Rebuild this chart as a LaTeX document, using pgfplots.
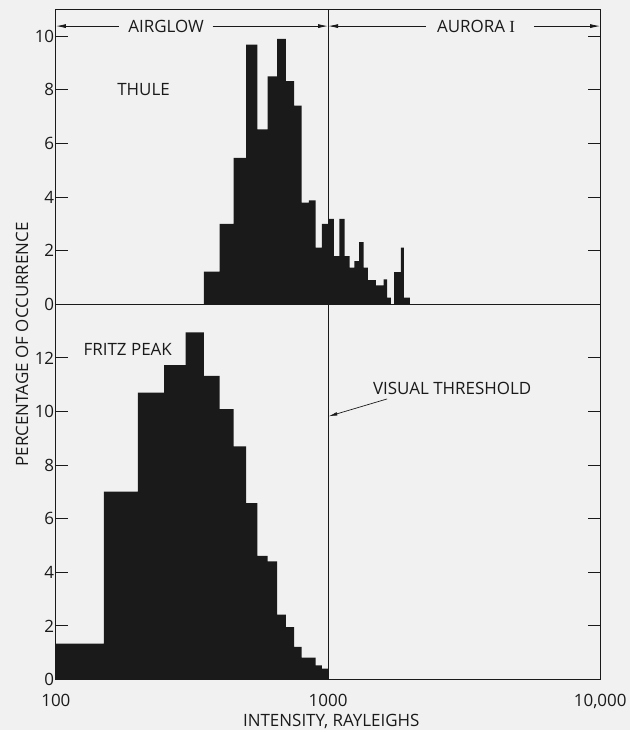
\documentclass[border=0pt]{standalone}
\usepackage{fontspec}
\setmainfont{Open Sans}
\newfontfamily\serifI{Liberation Serif}
\usepackage{pgfplots}
\usepackage{pgfplotstable}
\pgfplotsset{compat=1.18}
\usetikzlibrary{arrows.meta}
\definecolor{bg}{HTML}{F1F1F1}
\definecolor{ink}{HTML}{1A1A1A}

\pgfplotstableread{
x y
350 1.22
400 3.0
450 5.46
500 9.68
550 6.52
600 8.5
650 9.9
700 8.32
750 7.41
800 3.79
850 3.88
900 2.11
950 3.0
1000 3.19
1050 1.8
1100 3.19
1150 1.8
1200 1.37
1250 1.61
1300 2.32
1350 1.37
1400 0.9
1450 0.9
1500 0.71
1550 0.71
1600 0.93
1650 0.25
1700 0
1750 1.2
1800 1.2
1850 2.11
1900 0.25
1950 0.25
2000 0
}\thule

\pgfplotstableread{
x y
100 1.34
150 7.01
200 10.71
250 11.73
300 12.95
350 11.33
400 10.09
450 8.70
500 6.58
550 4.61
600 4.41
650 2.42
700 1.96
750 1.22
800 0.82
850 0.82
900 0.53
950 0.41
1000 0
}\fritz

\begin{document}
\begin{tikzpicture}[font=\fontsize{17}{20}\selectfont]
\fill[bg] (-56pt,-427pt) rectangle (575pt,305pt);

\begin{axis}[at={(0pt,0pt)}, anchor=south west, height=295.7pt,
  scale only axis, width=545.5pt,
  xmode=log, xmin=100, xmax=10000, ymin=0, ymax=11,
  ytick={0,2,4,6,8,10}, xtick=\empty, minor xtick={},
  tick align=inside, ytick pos=both, yticklabel pos=left,
  major tick length=12pt, minor tick length=0pt,
  axis line style={line width=1.1pt, ink},
  ytick style={line width=1pt, ink},
  xtick style={draw=none},
  /pgf/number format/assume math mode=true,
  every tick label/.append style={font=\fontsize{17}{20}\selectfont, text=ink},
  yticklabel style={inner xsep=1.5pt},
  clip=false]
\addplot[const plot mark left, fill=ink, draw=none] table[x=x,y=y] {\thule} \closedcycle;
\draw[ink, line width=0.9pt] (axis cs:1000,0) -- (axis cs:1000,11);
\draw[ink, line width=0.8pt, {Latex[length=10pt,width=4pt]}-] (rel axis cs:0,0.943) -- (rel axis cs:0.1155,0.943);
\node[text=ink] at (rel axis cs:0.2026,0.943) {AIRGLOW};
\draw[ink, line width=0.8pt, -{Latex[length=10pt,width=4pt]}] (rel axis cs:0.2878,0.943) -- (rel axis cs:0.5,0.943);
\draw[ink, line width=0.8pt, {Latex[length=10pt,width=4pt]}-] (rel axis cs:0.5,0.943) -- (rel axis cs:0.680,0.943);
\node[text=ink] at (rel axis cs:0.772,0.943) {AURORA {\serifI I}};
\draw[ink, line width=0.8pt, -{Latex[length=10pt,width=4pt]}] (rel axis cs:0.878,0.943) -- (rel axis cs:1,0.943);
\node[text=ink] at (axis cs:210,8.0) {THULE};
\end{axis}

\begin{axis}[at={(0pt,0pt)}, anchor=north west, height=376pt,
  scale only axis, width=545.5pt,
  xmode=log, xmin=100, xmax=10000, ymin=0, ymax=14,
  ytick={0,2,4,6,8,10,12},
  xtick={100,1000,10000}, xticklabels={100,1000,{10,000}}, minor xtick={},
  tick align=inside, ytick pos=both, yticklabel pos=left,
  major tick length=12pt, minor tick length=0pt,
  axis line style={line width=1.1pt, ink},
  ytick style={line width=1pt, ink},
  xtick style={draw=none},
  /pgf/number format/assume math mode=true,
  every tick label/.append style={font=\fontsize{17}{20}\selectfont, text=ink},
  yticklabel style={inner xsep=1.5pt},
  xticklabel style={yshift=-11pt},
  clip=false]
\addplot[const plot mark left, fill=ink, draw=none] table[x=x,y=y] {\fritz} \closedcycle;
\draw[ink, line width=0.9pt] (axis cs:1000,0) -- (axis cs:1000,14);
\node[text=ink] at (axis cs:183.7,12.33) {FRITZ PEAK};
\node[text=ink] at (axis cs:2858,10.88) {VISUAL THRESHOLD};
\draw[ink, line width=0.7pt, -{Latex[length=9pt,width=3.5pt]}] (axis cs:1648,10.47) -- (axis cs:1003,9.82);
\end{axis}

\node[rotate=90, text=ink] at (-34pt,-40pt) {PERCENTAGE OF OCCURRENCE};
\node[text=ink] at (276pt,-418pt) {INTENSITY, RAYLEIGHS};
\end{tikzpicture}
\end{document}
